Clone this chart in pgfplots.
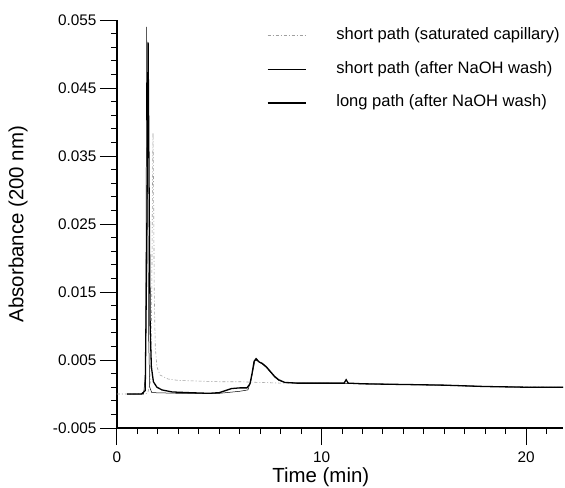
\documentclass[border=0pt]{standalone}
\usepackage{fontspec}
\setmainfont{Liberation Sans}
\usepackage{pgfplots}
\pgfplotsset{compat=1.18}
\begin{document}
\begin{tikzpicture}
\useasboundingbox (-117bp,-60bp) rectangle (448bp,428bp);
\begin{axis}[
  name=ax, at={(0,0)}, anchor=south west,
  scale only axis, width=446bp, height=408bp,
  xmin=0, xmax=21.8, ymin=-0.005, ymax=0.055,
  axis lines=left, axis line style={-, line width=1.1pt},
  scaled y ticks=false, scaled x ticks=false,
  tick align=outside,
  major tick length=17bp, minor tick length=6bp,
  tick style={black, line width=1pt},
  xtick={0,10,20}, xticklabels={0,10,20},
  minor xtick={1,2,3,4,5,6,7,8,9,11,12,13,14,15,16,17,18,19,21},
  ytick={-0.005,0.005,0.015,0.025,0.035,0.045,0.055},
  yticklabels={-0.005,0.005,0.015,0.025,0.035,0.045,0.055},
  minor ytick={-0.003,-0.001,0.001,0.003,0.007,0.009,0.011,0.013,0.017,0.019,0.021,0.023,0.027,0.029,0.031,0.033,0.037,0.039,0.041,0.043,0.047,0.049,0.051,0.053},
  /pgf/number format/assume math mode=true,
  ticklabel style={font=\fontsize{15.4}{17}\selectfont},
  xticklabel style={yshift=-3bp},
  xlabel={Time (min)}, ylabel={Absorbance (200 nm)},
  label style={font=\fontsize{20.5}{24}\selectfont},
  xlabel style={at={(axis description cs:0.457,-0.12)}, anchor=center},
  ylabel style={at={(axis description cs:-0.222,0.5)}, anchor=center},
  legend style={at={(axis description cs:0.336,0.983)}, anchor=north west,
    draw=none, fill=none, inner sep=0pt, row sep=18bp, column sep=0bp,
    font=\fontsize{16.6}{19}\selectfont,
    nodes={inner sep=0pt, text height=12pt, text depth=4pt, anchor=west}},
  legend cell align=left,
  legend image code/.code={\draw[#1] (0bp,0bp) -- (38bp,0bp);},
]
% short path (saturated capillary)
\addplot[forget plot, gray!75, line width=0.6pt, dash pattern=on 3pt off 2pt on 1pt off 2pt] coordinates {
(0,0.0000) (0.8,0.0000) (1.5,0.0001) (1.65,0.0020) (1.70,0.0150) (1.74,0.0330) (1.76,0.0384) (1.79,0.0300) (1.82,0.0150) (1.87,0.0070) (1.95,0.0040) (2.1,0.0028) (2.5,0.0022) (3,0.0020) (4,0.0019) (5,0.0018) (6,0.0018) (7,0.0017) (8,0.0016) (10,0.0016) (14,0.0014) (18,0.0011) (21.8,0.0010)};
% short path (after NaOH wash)
\addplot[forget plot, black, line width=0.5pt] coordinates {
(0.5,0.0000) (1.3,0.0000) (1.40,0.0030) (1.45,0.0540) (1.50,0.0300) (1.55,0.0080) (1.60,0.0010) (1.70,0.0002) (3,0.0001) (5,0.0001) (6.0,0.0004) (6.4,0.0006) (6.55,0.0020) (6.65,0.0035) (6.75,0.0050) (6.9,0.0048) (7.1,0.0044) (7.3,0.0039) (7.5,0.0032) (7.7,0.0025) (7.9,0.0020) (8.2,0.0017) (8.8,0.0016) (10,0.0016) (12,0.0015) (14,0.0014) (16,0.0013) (18,0.0011) (20,0.0010) (21.8,0.0010)};
% long path (after NaOH wash)
\addplot[forget plot, black, line width=1.3pt] coordinates {
(0.5,0.0000) (1.2,0.0000) (1.38,0.0005) (1.45,0.0200) (1.52,0.0517) (1.57,0.0300) (1.62,0.0100) (1.68,0.0040) (1.78,0.0018) (1.95,0.0010) (2.2,0.0006) (2.7,0.0003) (3.5,0.0002) (4.5,0.0001) (5.0,0.0002) (5.3,0.0005) (5.6,0.0008) (6.0,0.0009) (6.35,0.0009) (6.5,0.0015) (6.6,0.0030) (6.7,0.0048) (6.8,0.0052) (6.95,0.0047) (7.1,0.0045) (7.3,0.0040) (7.5,0.0033) (7.7,0.0026) (7.9,0.0021) (8.2,0.0017) (8.8,0.0016) (10,0.0016) (11.1,0.0016) (11.2,0.0021) (11.3,0.0016) (12,0.0015) (14,0.0014) (16,0.0013) (18,0.0011) (20,0.0010) (21.8,0.0010)};
\addlegendimage{gray!75, line width=0.6pt, dash pattern=on 3pt off 2pt on 1pt off 2pt}
\addlegendentry{\hspace{30bp}short path (saturated capillary)}
\addlegendimage{draw=none}
\addlegendentry{\hspace{30bp}short path (after NaOH wash)}
\addlegendimage{black, line width=1.3pt}
\addlegendentry{\hspace{30bp}long path (after NaOH wash)}
\end{axis}
\end{tikzpicture}
\end{document}
